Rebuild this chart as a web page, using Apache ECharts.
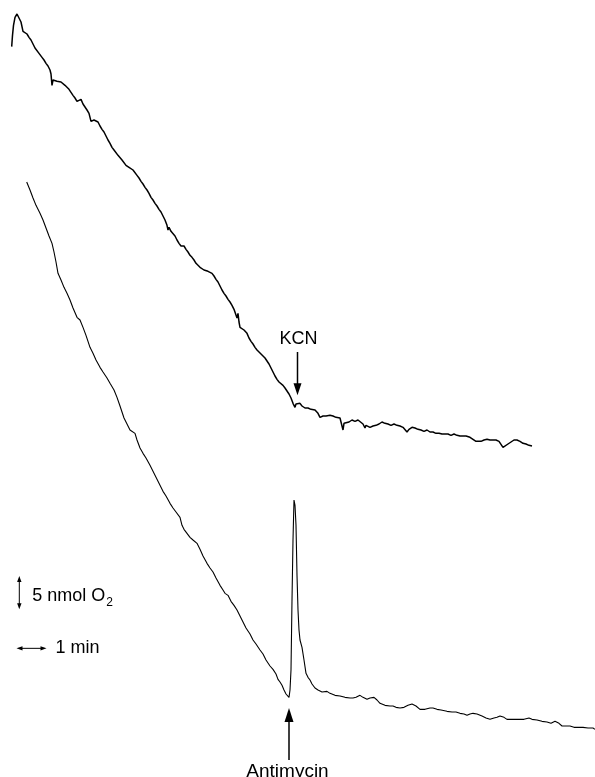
<!DOCTYPE html>
<html>
<head>
<meta charset="utf-8">
<script src="https://cdn.jsdelivr.net/npm/echarts@6/dist/echarts.min.js"></script>
<style>
  html, body { margin: 0; padding: 0; background: #fff; }
  #main { width: 595px; height: 777px; }
</style>
</head>
<body>
<div id="main"></div>
<script>
// time in seconds, O2 in nmol consumed (trace falls as O2 is used up)
var topTime = [23.4,25,27,30,34,38,42,46,50,54,58,62,66,70,74,78,84,88,92,96,100,102,104,106,108,110,114,118,122,126,
  130,134,138,142,146,150,154,158,162,166,170,174,178,182,184,188,192,196,200,204,208,212,216,220,224,228,232,236,240,244,
  248,252,254,258,262,266,270,274,278,282,286,290,294,298,302,306,310,314,318,322,326,330,334,336,338,340,342,344,346,350,
  354,358,362,364,368,372,376,380,384,388,392,396,400,404,408,412,416,420,424,428,432,436,440,444,448,452,456,460,464,468,
  472,474,476,478,480,484,488,492,494,498,502,506,510,514,518,522,526,530,534,538,542,546,550,554,558,562,566,570,574,578,
  582,586,590,592,596,600,604,610,616,622,630,636,640,646,652,660,666,672,680,684,686,688,692,698,704,710,716,720,726,730,
  732,736,740,746,752,758,764,770,776,782,788,794,800,806,810,814,818,824,830,836,842,848,854,860,866,872,878,884,890,896,
  902,908,914,920,926,932,936,940,946,952,956,962,968,974,980,986,992,998,1002,1006,1010,1016,1022,1028,1034,1040,1046,1052,1058,1064];
var topO2 = [7.0,5.3,3.8,2.6,2.1,2.4,3.3,4.7,4.8,5.1,5.6,6.0,6.6,7.2,7.5,8.0,8.6,9.0,9.5,9.9,10.5,11.1,12.8,12.0,11.9,12.3,12.2,12.5,12.3,12.6,
  12.8,13.1,13.4,13.7,14.3,14.7,15.2,15.0,14.9,15.6,15.9,16.5,17.0,18.2,18.5,18.0,17.9,18.3,18.9,19.4,19.8,20.4,21.0,21.5,22.1,22.5,22.8,23.3,23.6,24.0,
  24.3,24.8,24.5,25.1,25.2,25.5,25.7,26.3,26.7,27.2,27.6,28.1,28.5,29.0,29.6,30.0,30.5,30.9,31.4,31.8,32.4,33.0,33.8,34.5,34.1,34.4,34.7,34.4,35.0,35.4,
  36.0,36.5,36.9,37.1,36.9,37.4,37.8,38.3,38.6,39.0,39.5,39.8,40.1,40.4,40.5,40.7,40.7,41.0,41.0,41.4,41.9,42.3,42.9,43.5,44.0,44.4,44.9,45.3,45.8,46.4,
  46.7,47.7,47.0,48.3,49.1,49.2,49.5,49.8,50.0,50.7,51.2,51.6,52.1,52.5,52.8,53.1,53.4,53.7,54.0,54.6,55.2,55.8,56.4,56.9,57.3,57.6,57.8,58.2,58.5,59.1,
  59.7,60.5,61.1,60.6,60.3,60.5,60.9,61.2,61.2,61.4,61.5,62.0,62.6,62.4,62.4,62.3,62.4,62.6,62.7,63.0,64.5,63.5,63.2,63.3,63.0,63.2,63.0,63.2,63.6,64.2,
  63.8,63.9,64.1,63.9,63.8,63.6,63.3,63.5,63.6,63.8,63.6,63.8,63.9,64.1,64.4,64.8,64.4,64.1,64.2,64.4,64.5,64.7,64.5,64.8,64.8,65.0,65.0,65.1,65.1,65.1,
  65.3,65.1,65.3,65.4,65.4,65.4,65.6,65.6,65.9,66.2,66.3,66.2,66.0,65.9,66.0,66.0,66.0,66.2,66.2,67.1,66.8,66.6,66.3,66.0,66.0,66.2,66.5,66.6,66.8,66.9];

var botTime = [53.4,60,66,72,80,86,92,98,104,108,112,116,122,128,134,140,146,154,160,166,172,180,186,192,200,206,214,220,228,234,
  240,248,254,260,264,270,274,280,286,292,300,306,312,320,326,332,340,346,352,360,364,368,374,380,386,394,400,406,414,420,
  426,432,440,446,450,456,462,468,474,480,486,492,500,506,512,520,526,532,540,546,552,556,560,564,568,572,576,578,580,582,
  584,586,588,590,592,594,596,598,600,604,608,612,616,620,624,630,636,640,644,648,654,660,670,680,690,700,706,712,720,726,
  734,740,748,754,760,770,780,786,792,800,808,816,824,832,840,850,860,866,874,882,894,904,912,920,928,934,940,946,954,964,
  972,980,988,994,1000,1008,1014,1024,1036,1048,1058,1064,1074,1084,1094,1102,1106,1110,1114,1118,1124,1132,1140,1148,1156,1166,1176,1186,1190];
var botO2 = [27.3,28.5,29.7,30.8,32.0,33.0,34.2,35.4,36.5,37.8,39.3,41.0,42.0,43.1,44.0,45.0,46.2,47.6,48.0,49.1,50.3,52.1,53.0,54.0,55.1,55.8,56.7,57.5,58.5,59.6,
  60.9,62.7,63.6,64.5,64.8,65.0,66.0,67.2,68.0,68.7,69.8,70.7,71.6,72.8,73.7,74.4,75.5,76.2,76.8,77.6,78.8,79.4,80.0,80.6,81.0,81.5,82.4,83.4,84.5,85.2,
  85.8,86.7,87.8,88.5,89.0,89.3,90.2,90.8,91.5,92.4,93.3,94.2,95.1,96.0,96.6,97.5,98.1,99.0,99.9,100.4,101.1,101.9,102.3,102.8,103.5,104.1,104.4,104.6,103.5,100.5,
  90.0,81.0,75.0,75.8,78.8,86.3,91.5,94.5,96.0,97.1,99.0,101.0,101.6,102.0,102.6,103.2,103.5,103.5,103.8,103.8,103.7,104.0,104.3,104.4,104.6,104.7,104.7,104.6,104.3,104.6,
  104.9,104.7,104.6,105.0,105.5,105.8,105.9,105.9,106.1,106.2,106.1,105.8,105.6,105.9,106.4,106.4,106.2,106.2,106.4,106.5,106.7,106.8,106.8,107.0,107.1,107.3,107.1,107.0,107.1,107.4,
  107.7,107.9,107.7,107.6,107.4,107.6,107.9,107.9,107.9,107.9,107.7,107.9,108.0,108.2,108.3,108.5,108.5,108.2,108.0,108.5,108.9,108.9,108.9,109.1,109.1,109.1,109.2,109.2,109.4];

// annotation anchors [time s, O2 nmol]
var kcnTip = [595, 59.3], kcnTail = [595, 52.8], kcnText = [597, 50.9];
var antiTip = [578, 106.2], antiTail = [578, 114.0], antiText = [575, 115.8];
var vBarTop = [38.6, 86.4], vBarBottom = [38.6, 91.4];   // 5 nmol O2
var hBarLeft = [33, 97.25], hBarRight = [93, 97.25];      // 1 min

function pairs(xs, ys) {
  var out = [];
  for (var i = 0; i < xs.length; i++) out.push([xs[i], ys[i]]);
  return out;
}

var chart = echarts.init(document.getElementById('main'));
chart.setOption({
  animation: false,
  backgroundColor: '#fff',
  grid: { left: 0, right: 0, top: 0, bottom: 0 },
  xAxis: { type: 'value', min: 0, max: 1190, show: false },
  yAxis: { type: 'value', min: 0, max: 116.55, inverse: true, show: false },
  series: [
    { type: 'line', data: pairs(topTime, topO2), showSymbol: false,
      lineStyle: { color: '#000', width: 1.5 } },
    { type: 'line', data: pairs(botTime, botO2), showSymbol: false,
      lineStyle: { color: '#000', width: 1.1 } }
  ]
});

function px(p) { return chart.convertToPixel({ gridIndex: 0 }, p); }

function head(tip, dir, len, half) {
  // dir: unit vector pointing toward tip
  var bx = tip[0] - dir[0] * len, by = tip[1] - dir[1] * len;
  return {
    type: 'polygon',
    shape: { points: [tip, [bx - dir[1] * half, by + dir[0] * half], [bx + dir[1] * half, by - dir[0] * half]] },
    style: { fill: '#000' }
  };
}

function arrow(from, to, len, half, lw, both) {
  var dx = to[0] - from[0], dy = to[1] - from[1];
  var d = Math.sqrt(dx * dx + dy * dy);
  var u = [dx / d, dy / d];
  var els = [{
    type: 'line',
    shape: { x1: from[0], y1: from[1], x2: to[0] - u[0] * len * 0.8, y2: to[1] - u[1] * len * 0.8 },
    style: { stroke: '#000', lineWidth: lw }
  }, head(to, u, len, half)];
  if (both) {
    els[0].shape.x1 = from[0] + u[0] * len * 0.8;
    els[0].shape.y1 = from[1] + u[1] * len * 0.8;
    els.push(head(from, [-u[0], -u[1]], len, half));
  }
  return els;
}

var font = '"Liberation Sans", Arial, Helvetica, sans-serif';
var g = [];
g = g.concat(arrow(px(kcnTail), px(kcnTip), 12, 4, 1.5, false));
g = g.concat(arrow(px(antiTail), px(antiTip), 14, 4.5, 1.5, false));
g = g.concat(arrow(px(vBarTop), px(vBarBottom), 6, 2.2, 1, true));
g = g.concat(arrow(px(hBarLeft), px(hBarRight), 6, 2.2, 1, true));

var kt = px(kcnText), at = px(antiText), vb = px(vBarTop), hb = px(hBarRight);
g.push({ type: 'text', x: kt[0], y: kt[1],
  style: { text: 'KCN', fill: '#000', font: '18px ' + font, textAlign: 'center', textVerticalAlign: 'middle' } });
g.push({ type: 'text', x: at[0], y: at[1],
  style: { text: 'Antimycin', fill: '#000', font: '19px ' + font, textAlign: 'center', textVerticalAlign: 'middle' } });
g.push({ type: 'text', x: vb[0] + 13, y: vb[1] + 20,
  style: { text: '5 nmol O', fill: '#000', font: '18px ' + font, textAlign: 'left', textVerticalAlign: 'middle' } });
g.push({ type: 'text', x: vb[0] + 87, y: vb[1] + 27,
  style: { text: '2', fill: '#000', font: '12px ' + font, textAlign: 'left', textVerticalAlign: 'middle' } });
g.push({ type: 'text', x: hb[0] + 9, y: hb[1],
  style: { text: '1 min', fill: '#000', font: '18px ' + font, textAlign: 'left', textVerticalAlign: 'middle' } });

chart.setOption({ graphic: g });
</script>
</body>
</html>
